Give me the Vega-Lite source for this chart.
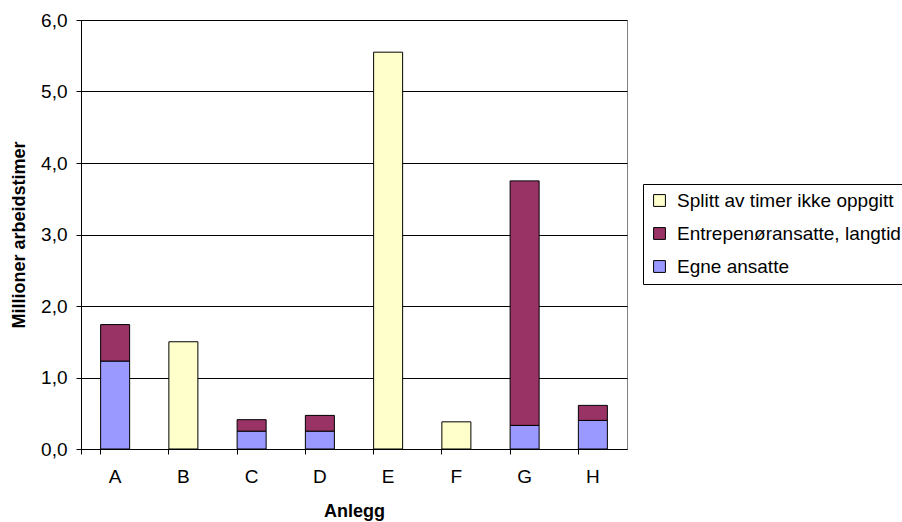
{
  "$schema": "https://vega.github.io/schema/vega-lite/v6.json",
  "width": 546,
  "height": 429,
  "autosize": "none",
  "padding": {"left": 81, "top": 20, "right": 275, "bottom": 73},
  "background": "white",
  "config": {
    "font": "Liberation Sans",
    "view": {"stroke": "#808080", "strokeWidth": 1},
    "axis": {
      "labelFont": "Liberation Sans",
      "titleFont": "Liberation Sans",
      "labelFontSize": 19,
      "titleFontSize": 18,
      "titleFontWeight": "bold",
      "labelColor": "black",
      "titleColor": "black",
      "domainColor": "black",
      "tickColor": "black",
      "tickSize": 5
    },
    "legend": {
      "labelFont": "Liberation Sans",
      "labelFontSize": 19,
      "labelColor": "black"
    }
  },
  "data": {
    "values": [
      {"anlegg": "A", "kategori": "Egne ansatte", "timer": 1.23},
      {"anlegg": "A", "kategori": "Entrepenøransatte, langtid", "timer": 0.51},
      {"anlegg": "B", "kategori": "Splitt av timer ikke oppgitt", "timer": 1.5},
      {"anlegg": "C", "kategori": "Egne ansatte", "timer": 0.25},
      {"anlegg": "C", "kategori": "Entrepenøransatte, langtid", "timer": 0.16},
      {"anlegg": "D", "kategori": "Egne ansatte", "timer": 0.25},
      {"anlegg": "D", "kategori": "Entrepenøransatte, langtid", "timer": 0.22},
      {"anlegg": "E", "kategori": "Splitt av timer ikke oppgitt", "timer": 5.55},
      {"anlegg": "F", "kategori": "Splitt av timer ikke oppgitt", "timer": 0.38},
      {"anlegg": "G", "kategori": "Egne ansatte", "timer": 0.33},
      {"anlegg": "G", "kategori": "Entrepenøransatte, langtid", "timer": 3.42},
      {"anlegg": "H", "kategori": "Egne ansatte", "timer": 0.4},
      {"anlegg": "H", "kategori": "Entrepenøransatte, langtid", "timer": 0.21}
    ]
  },
  "mark": {"type": "bar", "stroke": "black", "strokeWidth": 1},
  "encoding": {
    "x": {
      "field": "anlegg",
      "type": "nominal",
      "title": "Anlegg",
      "scale": {"paddingInner": 0.575, "paddingOuter": 0.2875},
      "axis": {
        "labelAngle": 0,
        "bandPosition": 0,
        "tickExtra": true,
        "labelPadding": 13,
        "titlePadding": 16
      }
    },
    "y": {
      "field": "timer",
      "type": "quantitative",
      "title": "Millioner arbeidstimer",
      "stack": "zero",
      "scale": {"domain": [0, 6], "nice": false},
      "axis": {
        "values": [0, 1, 2, 3, 4, 5, 6],
        "labelExpr": "replace(format(datum.value, '.1f'), '.', ',')",
        "grid": true,
        "gridColor": "black",
        "gridOpacity": 1,
        "labelPadding": 9,
        "titlePadding": 12
      }
    },
    "color": {
      "field": "kategori",
      "type": "nominal",
      "title": null,
      "scale": {
        "domain": ["Splitt av timer ikke oppgitt", "Entrepenøransatte, langtid", "Egne ansatte"],
        "range": ["#FFFFCC", "#993366", "#9999FF"]
      },
      "legend": {
        "orient": "none",
        "legendX": 562,
        "legendY": 164,
        "symbolType": "square",
        "symbolSize": 140,
        "symbolStrokeColor": "black",
        "symbolStrokeWidth": 1,
        "symbolOpacity": 1,
        "labelLimit": 400,
        "labelOffset": 8,
        "rowPadding": 13,
        "padding": 7,
        "strokeColor": "black",
        "fillColor": "white"
      }
    },
    "order": {"field": "kategori", "type": "nominal", "sort": "ascending"}
  }
}
